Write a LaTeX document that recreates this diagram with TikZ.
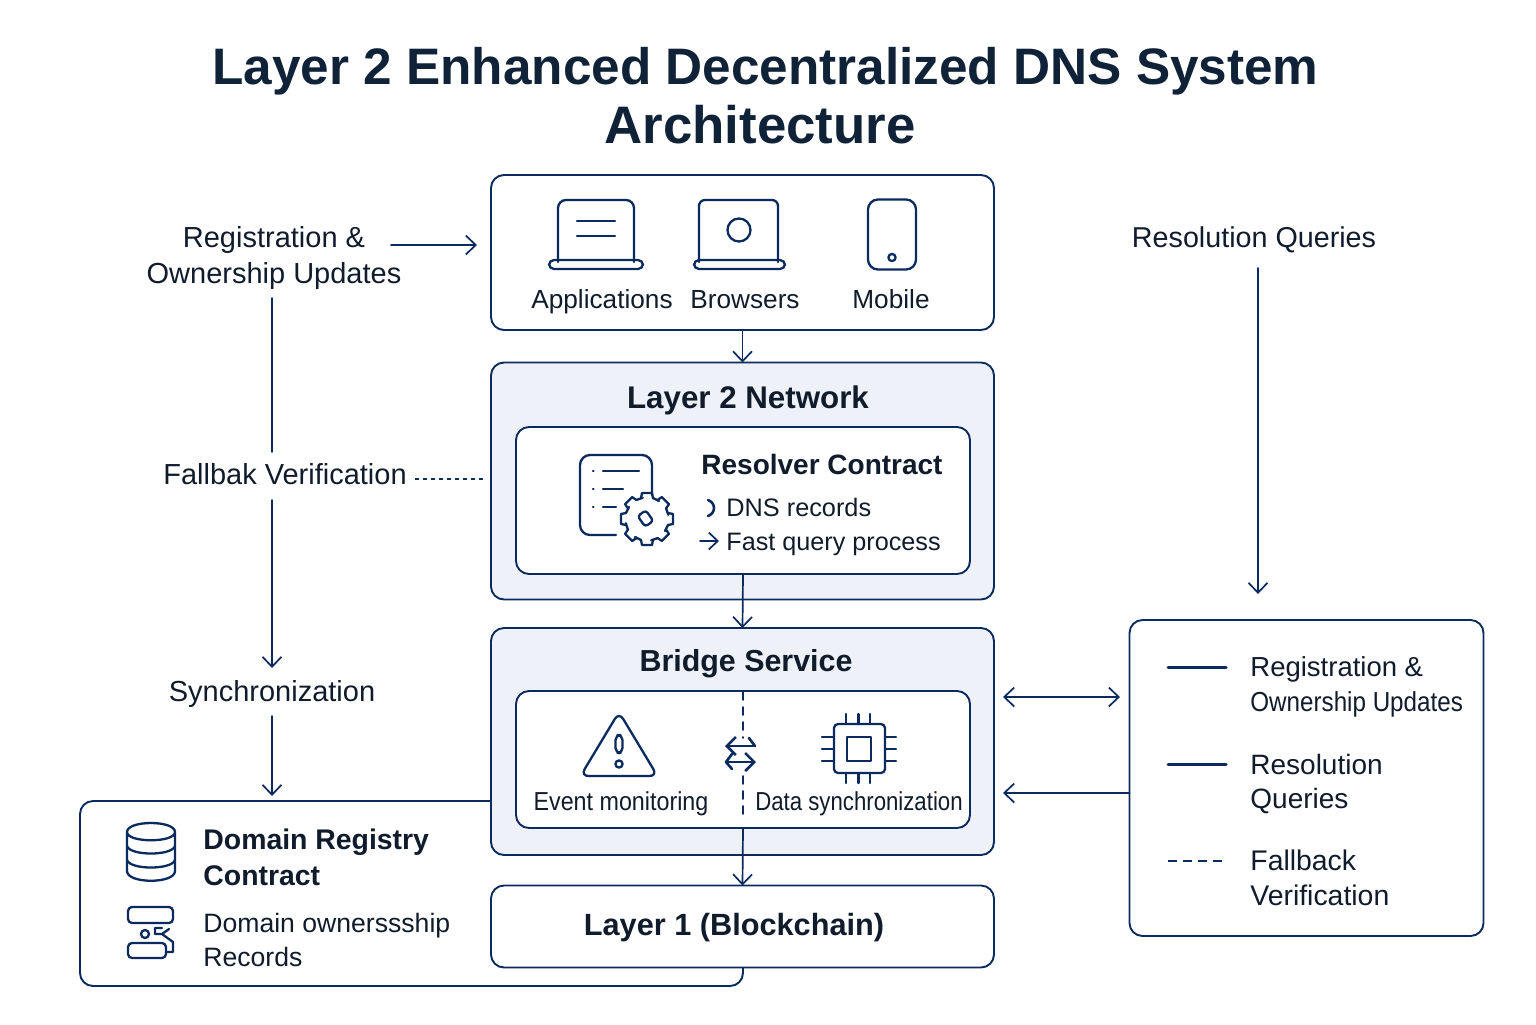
\documentclass[tikz,border=0pt]{standalone}
\usepackage{fontspec}
\usepackage{graphicx}
\setmainfont{Liberation Sans}
\usetikzlibrary{arrows.meta}
\definecolor{navy}{HTML}{0B2A5E}
\definecolor{ink}{HTML}{101C2C}
\definecolor{titleink}{HTML}{0F2238}
\definecolor{panel}{HTML}{EEF2F8}
\newcommand{\fs}[2]{\fontsize{#1}{#2}\selectfont}
\tikzset{
  x=0.5pt,y=-0.5pt,
  line/.style={draw=navy,line width=0.85pt,line cap=round,line join=round},
  icon/.style={draw=navy,line width=1.15pt,line cap=round,line join=round},
  tip/.style={-{Straight Barb[length=5pt,width=9.5pt,line width=0.85pt]}},
  twotip/.style={{Straight Barb[length=5pt,width=9.5pt,line width=0.85pt]}-{Straight Barb[length=5pt,width=9.5pt,line width=0.85pt]}},
  card/.style={draw=navy,line width=0.95pt,rounded corners=6.5pt,fill=white,anchor=north west,inner sep=0pt,outer sep=0pt},
  pane/.style={card,fill=panel},
  lab/.style={text=ink,font=\fs{14.5}{18},inner sep=0pt,align=center},
  blab/.style={lab,anchor=base},
  bleft/.style={lab,anchor=base west,align=left},
  labl/.style={lab,align=left,anchor=west},
  head/.style={lab,font=\bfseries},
  ttl/.style={text=titleink,font=\bfseries,inner sep=0pt,align=center,anchor=base}
}
\begin{document}
\begin{tikzpicture}
\useasboundingbox (0,0) rectangle (1536,1024);
% title
\node[ttl,font=\fs{25.65}{30}\bfseries] (title) at (765.5,84.5) {Layer 2 Enhanced Decentralized DNS System};
\node[ttl,font=\fs{26.4}{30}\bfseries] (title2) at (760,143.5) {Architecture};
% registry (L-shaped, behind)
\node[anchor=west,inner sep=0pt,outer sep=0pt] (regcorner) at (490,801) {};
\coordinate (regend) at (743,967);
\draw[line,fill=white,line width=0.95pt,rounded corners=6.5pt] (regcorner.west) -- (80,801) -- (80,986) -- (743,986) -- (regend);
% main boxes
\node[card,minimum width=251.5pt,minimum height=77.5pt] (apps) at (491,175) {};
\node[pane,minimum width=251.5pt,minimum height=118.5pt] (l2) at (491,362.5) {};
\node[card,minimum width=227pt,minimum height=73.5pt] (res) at (516,427) {};
\node[pane,minimum width=251.5pt,minimum height=113.5pt] (bridge) at (491,628) {};
\node[card,minimum width=227pt,minimum height=68.5pt] (mon) at (516,691) {};
\node[card,minimum width=251.5pt,minimum height=41pt] (l1) at (491,885.5) {};
\node[card,minimum width=177pt,minimum height=158pt] (legend) at (1129.5,620) {};
% apps contents
\draw[icon,rounded corners=4pt] (558,262) -- (558,200) -- (634,200) -- (634,262);
\draw[icon,rounded corners=2.5pt] (549,260) -- (643,260) -- (643,269) -- (549,269) -- cycle;
\draw[icon] (577,221) -- (615,221) (577,236) -- (615,236);
\draw[icon,rounded corners=3pt] (699,262) -- (699,200) -- (778,200) -- (778,262);
\draw[icon,rounded corners=2.5pt] (694,260) -- (785,260) -- (785,269) -- (694,269) -- cycle;
\draw[icon] (739,230) circle (11.5);
\draw[icon,rounded corners=5pt] (868,199.5) rectangle (916,269.5);
\draw[icon] (892,257.5) circle (3.6);
\node[blab,font=\fs{13.1}{16}] (tapps) at (602,308) {Applications};
\node[blab,font=\fs{13.1}{16}] (tbrow) at (745,308) {Browsers};
\node[blab,font=\fs{13.1}{16}] (tmob) at (891,308) {Mobile};
% Layer 2
\node[head,anchor=base,font=\fs{15.65}{19}\bfseries] (tl2) at (748,408) {Layer 2 Network};
\draw[icon,rounded corners=5pt] (616,535) -- (580,535) -- (580,455) -- (652,455) -- (652,495);
\draw[icon] (593,471) -- (593.5,471) (603,471) -- (639,471) (593,489) -- (593.5,489) (603,489) -- (623,489) (593,507) -- (593.5,507) (603,507) -- (616,507);
\foreach \a in {0,45,...,315}{
  \draw[icon,rotate around={\a:(647,519)}] (641,498) -- (642,493) -- (652,493) -- (653,498);
  \draw[icon,rotate around={\a:(647,519)}] (653,498) -- (659,501);
}
\draw[icon,fill=white,rotate around={35:(645.5,518.5)},rounded corners=1.5pt] (640.5,512) rectangle (650.5,525);
\node[head,anchor=base west,font=\fs{14}{18}\bfseries] (tres) at (701,474.5) {Resolver Contract};
\draw[icon,line width=1.3pt] (708,500) .. controls (716,503) and (716,513) .. (708,516);
\node[bleft,font=\fs{12.65}{16}] (tdns) at (726,516.5) {DNS records};
\draw[icon,line width=0.95pt,-{Straight Barb[length=4.5pt,width=8.5pt,line width=0.85pt]}] (700,541) -- (719,541);
\node[bleft,font=\fs{12.6}{16}] (tfast) at (726,550.5) {Fast query process};
% Bridge
\node[head,anchor=base,font=\fs{15.2}{19}\bfseries] (tbr) at (746,671.5) {Bridge Service};
\draw[icon,rounded corners=4pt] (619,712) -- (580.5,776) -- (657.5,776) -- cycle;
\draw[icon,rounded corners=2.5pt] (615.5,735) rectangle (622.5,753);
\draw[icon] (619,764) circle (3.6);
\node[blab,font=\fs{13}{14}] (tev) at (621,810.5) {\scalebox{0.896}[1]{Event monitoring}};
\coordinate (dashtop) at (743,692);
\coordinate (dashbot) at (743,815);
\draw[line,dash pattern=on 4pt off 3.5pt] (dashtop) -- (743,738);
\draw[line,dash pattern=on 4pt off 3.5pt] (743,776) -- (dashbot);
\draw[line,line width=1.3pt,{Straight Barb[length=4.5pt,width=9pt,line width=1.3pt]}-] (725,746) -- (755,746);
\draw[line,line width=1.3pt,-{Straight Barb[length=4.5pt,width=9pt,line width=1.3pt]}] (726,762) -- (756,762);
\draw[line,line width=1.3pt] (749,738) -- (755,746) (732,754) -- (726,762) -- (732,769);
\draw[icon,rounded corners=2pt] (834,724) rectangle (885,773);
\draw[icon] (847,737) rectangle (871,761);
\draw[icon] (846,714) -- (846,724) (858.5,714) -- (858.5,724) (870,714) -- (870,724)
            (846,773) -- (846,783) (858.5,773) -- (858.5,783) (870,773) -- (870,783)
            (822,737) -- (834,737) (822,749) -- (834,749) (822,761) -- (834,761)
            (885,737) -- (896,737) (885,749) -- (896,749) (885,761) -- (896,761);
\node[blab,font=\fs{13}{14}] (tsync) at (859,810.5) {\scalebox{0.854}[1]{Data synchronization}};
% Layer 1
\node[head,anchor=base,font=\fs{15.35}{20}\bfseries] (tl1) at (734,935.5) {Layer 1 (Blockchain)};
% registry contents
\draw[icon] (127,832) .. controls (127,820) and (175,820) .. (175,832) .. controls (175,843) and (127,843) .. (127,832) -- (127,871) .. controls (127,884) and (175,884) .. (175,871) -- (175,832);
\draw[icon] (127,846) .. controls (130,856) and (172,856) .. (175,846);
\draw[icon] (127,860) .. controls (130,870) and (172,870) .. (175,860);
\draw[icon,rounded corners=2pt] (128,907) rectangle (173,923);
\draw[icon] (145,934) circle (4);
\draw[icon] (169,929) -- (162,934) -- (155,934) -- (155,928) -- (162,928);
\draw[icon,rounded corners=2pt] (166,943) -- (128,943) -- (128,958) -- (166,958) -- cycle;
\draw[icon] (162,934) -- (173,942) -- (173,952) -- (166,952);
\node[head,anchor=west,align=left,font=\fs{14.2}{18}\bfseries] (treg) at (203,857) {Domain Registry\\Contract};
\node[labl,font=\fs{13.3}{17}] (town) at (203,939.5) {Domain ownerssship\\Records};
% left labels
\node[lab] (treg2) at (274,257.5) {Registration \&\\Ownership Updates};
\node[blab] (tfb) at (285,484) {Fallbak Verification};
\node[blab] (tsy) at (272,701) {Synchronization};
% right label
\node[blab,font=\fs{14.35}{18}] (trq) at (1254,247) {Resolution Queries};
% legend contents
\coordinate (k1a) at (1168,667); \coordinate (k1b) at (1226,667);
\coordinate (k2a) at (1168,764); \coordinate (k2b) at (1226,764);
\coordinate (k3a) at (1168,861); \coordinate (k3b) at (1226,861);
\draw[line,line width=1.5pt] (k1a) -- (k1b);
\draw[line,line width=1.5pt] (k2a) -- (k2b);
\draw[line,dash pattern=on 4.5pt off 3pt,line cap=butt] (k3a) -- (k3b);
\node[bleft,font=\fs{13.75}{17}] (tk1a) at (1250,676.5) {Registration \&};
\node[bleft,font=\fs{13.75}{17}] (tk1b) at (1250,711.5) {\scalebox{0.88}[1]{Ownership Updates}};
\node[bleft,font=\fs{14}{17}] (tk2) at (1250,774.5) {Resolution};
\node[bleft,font=\fs{14}{17}] (tk2b) at (1250,808) {Queries};
\node[bleft,font=\fs{14.2}{17}] (tk3) at (1250,870.5) {Fallback};
\node[bleft,font=\fs{14.2}{17}] (tk3b) at (1250,905.5) {Verification};
% connectors
\draw[line,tip] (apps.south) -- (l2.north);
\draw[line,tip] (res.south) -- (bridge.north);
\draw[line,tip] (mon.south) -- (l1.north);
\coordinate (ra) at (391,245); \coordinate (rb) at (477,245);
\draw[line,tip] (ra) -- (rb);
\coordinate (v1) at (272,298); \coordinate (v2) at (272,452);
\coordinate (v3) at (272,500); \coordinate (v4) at (272,668);
\coordinate (v5) at (272,716); \coordinate (v6) at (272,796);
\draw[line] (v1) -- (v2);
\draw[line,tip] (v3) -- (v4);
\draw[line,tip] (v5) -- (v6);
\coordinate (fa) at (415,479); \coordinate (fb) at (485,479);
\draw[line,dash pattern=on 2pt off 2pt,line cap=butt] (fa) -- (fb);
\coordinate (qa) at (1258,268); \coordinate (qb) at (1258,594);
\draw[line,tip] (qa) -- (qb);
\coordinate (da) at (1003,697); \coordinate (db) at (1120,697);
\draw[line,twotip] (da) -- (db);
\coordinate (ea) at (1003,793);
\draw[line,tip] (legend.west |- ea) -- (ea);
\end{tikzpicture}
\end{document}
